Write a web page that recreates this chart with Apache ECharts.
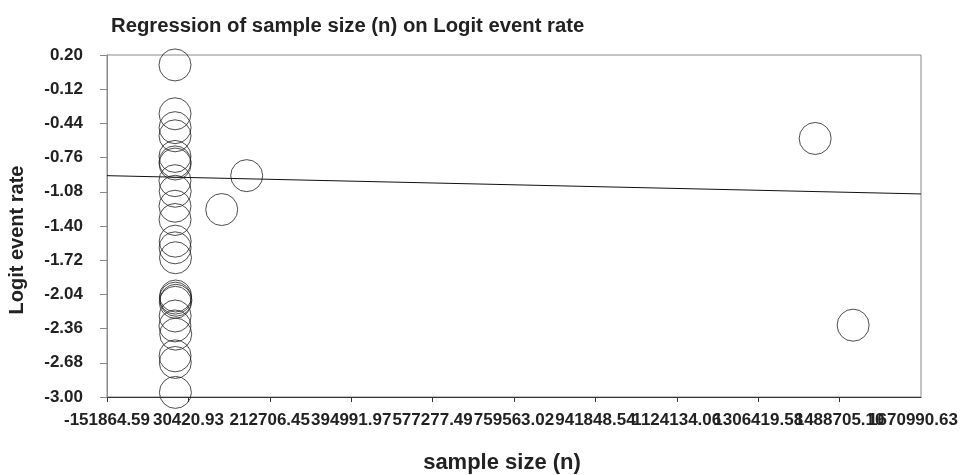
<!DOCTYPE html>
<html>
<head>
<meta charset="utf-8">
<script src="https://cdn.jsdelivr.net/npm/echarts@6/dist/echarts.min.js"></script>
<style>html,body{margin:0;padding:0;background:#fff;}#chart{width:961px;height:475px;}</style>
</head>
<body>
<div id="chart"></div>
<script>
// ---- data ----
const titleText = 'Regression of sample size (n) on Logit event rate';
const xAxisName = 'sample size (n)';
const yAxisName = 'Logit event rate';
const xTickLabels = ['-151864.59','30420.93','212706.45','394991.97','577277.49','759563.02','941848.54','1124134.06','1306419.58','1488705.10','1670990.63'];
const xMin = -151864.59, xMax = 1670990.63;
const yMin = -3.00, yMax = 0.20, yStep = 0.32;
const sampleSize = [400,500,600,450,350,500,700,300,800,400,550,900,650,1500,1800,1200,2500,1000,700,300,2000,600,1100,1300,105000,161000,1434000,1519000];
const logitRate = [0.107,-0.35,-0.48,-0.556,-0.749,-0.80,-0.82,-0.976,-1.075,-1.215,-1.339,-1.542,-1.604,-1.697,-2.055,-2.075,-2.095,-2.114,-2.242,-2.335,-2.412,-2.615,-2.677,-2.957,-1.246,-0.929,-0.581,-2.328];
const regX = [-151864.59, 1670990.63];
const regY = [-0.929, -1.100];

const font = "'Liberation Sans', Arial, sans-serif";
const xInterval = (xMax - xMin) / (xTickLabels.length - 1);
const lastIdx = xTickLabels.length - 1;
const tickIndex = v => Math.round((v - xMin) / xInterval);
const scatterData = sampleSize.map((x, i) => [x, logitRate[i]]);
const lineData = regX.map((x, i) => [x, regY[i]]);

const labelStyle = {fontFamily: font, fontWeight: 'bold', fontSize: 17, color: '#222'};

const chart = echarts.init(document.getElementById('chart'), null, {renderer: 'canvas'});
chart.setOption({
  animation: false,
  backgroundColor: '#fff',
  title: {
    text: titleText, left: 106, top: 11,
    textStyle: {fontFamily: font, fontWeight: 'bold', fontSize: 20.3, color: '#222'}
  },
  grid: {
    left: 107, right: 40, top: 55, bottom: 78,
    outerBoundsMode: 'none', containLabel: false,
    show: true, borderColor: '#8a8a8a', borderWidth: 1, backgroundColor: 'transparent'
  },
  xAxis: [
    {
      type: 'value', min: xMin, max: xMax, interval: xInterval,
      name: xAxisName, nameLocation: 'middle', nameGap: 55,
      nameTextStyle: {fontFamily: font, fontWeight: 'bold', fontSize: 22, color: '#222', padding: [0, 24, 0, 0]},
      splitLine: {show: false},
      axisLine: {show: true, onZero: false, lineStyle: {color: '#333', width: 1}},
      axisTick: {show: true, inside: false, length: 5, lineStyle: {color: '#333'}},
      axisLabel: Object.assign({
        margin: 15, showMinLabel: true, showMaxLabel: false, hideOverlap: false,
        formatter: v => { const i = tickIndex(v); return i === lastIdx ? '' : (xTickLabels[i] || ''); }
      }, labelStyle)
    },
    {
      type: 'value', min: xMin, max: xMax, interval: xInterval, position: 'bottom',
      splitLine: {show: false}, axisLine: {show: false}, axisTick: {show: false},
      axisLabel: Object.assign({
        margin: 15, showMinLabel: false, showMaxLabel: true, hideOverlap: false,
        padding: [0, 16, 0, 0],
        formatter: v => tickIndex(v) === lastIdx ? xTickLabels[lastIdx] : ''
      }, labelStyle)
    }
  ],
  yAxis: {
    type: 'value', min: yMin, max: yMax, interval: yStep,
    name: yAxisName, nameLocation: 'middle', nameGap: 80, nameRotate: 90,
    nameTextStyle: {fontFamily: font, fontWeight: 'bold', fontSize: 20, color: '#222', padding: [0, 28, 0, 0]},
    splitLine: {show: false},
    axisLine: {show: true, onZero: false, lineStyle: {color: '#8a8a8a', width: 1}},
    axisTick: {show: true, inside: false, length: 7, lineStyle: {color: '#8a8a8a'}},
    axisLabel: Object.assign({margin: 24, formatter: v => v.toFixed(2)}, labelStyle)
  },
  series: [
    {
      type: 'line', data: lineData, symbol: 'none', silent: true, xAxisIndex: 0,
      lineStyle: {color: '#111', width: 1}, z: 2
    },
    {
      type: 'scatter', data: scatterData, symbol: 'circle', symbolSize: 32, xAxisIndex: 0,
      itemStyle: {color: 'rgba(0,0,0,0)', borderColor: '#222', borderWidth: 1}, z: 3
    }
  ]
});
</script>
</body>
</html>
